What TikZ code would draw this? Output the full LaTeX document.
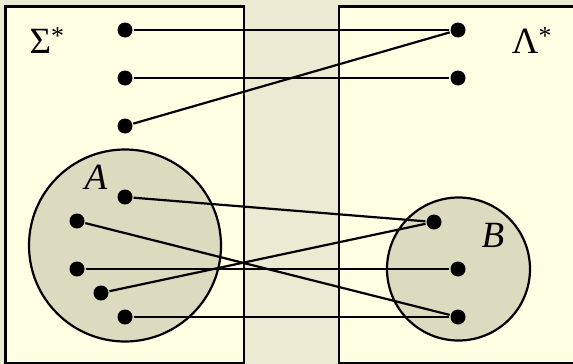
\documentclass[tikz,border=0pt]{standalone}
\usepackage{fontspec}
\setmainfont{Liberation Serif}
\definecolor{pagebg}{HTML}{EBEBD3}
\definecolor{setbg}{HTML}{FFFFE3}
\definecolor{subbg}{HTML}{DBDBC0}
\begin{document}
\begin{tikzpicture}[x=1pt,y=-1pt,line width=2.2pt,
  dot/.style={circle,fill=black,inner sep=0pt,minimum size=15pt},
  lbl/.style={font=\fontsize{37}{40}\selectfont}]
\useasboundingbox (0,0) rectangle (573,364);
\clip (0,0) rectangle (573,364);
\fill[pagebg] (0,0) rectangle (573,364);

% the two sets
\draw[fill=setbg] (5.5,6.5) rectangle (244,363);
\draw[fill=setbg] (339,6.5) rectangle (590,363);
\node[lbl] (sigma) at (47,41) {Σ\textsuperscript{*}};
\node[lbl] (lambda) at (532,41) {Λ\textsuperscript{*}};

% the subsets
\draw[fill=subbg] (125,245.5) circle (96);
\draw[fill=subbg] (458.5,269) circle (71.5);
\node[lbl] (labA) at (96,177) {\textit{A}};
\node[lbl] (labB) at (493,235) {\textit{B}};

% points
\node[dot] (l1) at (125,30) {};
\node[dot] (l2) at (125,78) {};
\node[dot] (l3) at (125,126) {};
\node[dot] (r1) at (458,30) {};
\node[dot] (r2) at (458,78) {};

\node[dot] (a1) at (125,197) {};
\node[dot] (a2) at (77,221) {};
\node[dot] (a3) at (77,269) {};
\node[dot] (a4) at (101,293) {};
\node[dot] (a5) at (125,317) {};
\node[dot] (b1) at (434,222) {};
\node[dot] (b2) at (458,269) {};
\node[dot] (b3) at (458,317) {};

% the map
\draw (l1) -- (r1);
\draw (l2) -- (r2);
\draw (l3) -- (r1);
\draw (a1) -- (b1);
\draw (a2) -- (b3);
\draw (a3) -- (b2);
\draw (a4) -- (b1);
\draw (a5) -- (b3);
\end{tikzpicture}
\end{document}
